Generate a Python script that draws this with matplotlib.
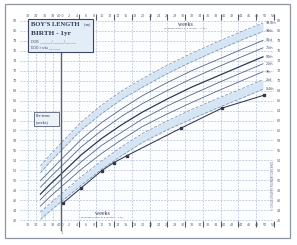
import matplotlib
matplotlib.use("Agg")
import matplotlib.pyplot as plt
from matplotlib.patches import Rectangle

# ---- data ----
weeks = [-5, -2.5, 0, 5, 10, 15, 20, 26, 32, 38, 44, 49.5]
c996 = [52.9, 55.2, 57.4, 61.7, 65.1, 68.0, 70.4, 73.1, 75.5, 77.7, 79.8, 81.6]
c98 = [51.5, 53.8, 55.9, 60.1, 63.4, 66.3, 68.7, 71.4, 73.8, 76.0, 78.1, 79.9]
c91 = [49.9, 52.0, 54.1, 58.2, 61.6, 64.4, 67.0, 69.6, 72.0, 74.1, 76.2, 78.1]
c75 = [48.6, 50.7, 52.7, 56.7, 60.0, 62.9, 65.4, 68.0, 70.4, 72.6, 74.7, 76.6]
c50 = [47.2, 49.3, 51.2, 55.1, 58.4, 61.2, 63.7, 66.3, 68.7, 70.8, 72.9, 74.8]
c25 = [46.1, 48.1, 50.0, 53.7, 57.0, 59.7, 62.3, 64.9, 67.2, 69.4, 71.5, 73.4]
c9 = [44.8, 46.8, 48.6, 52.2, 55.4, 58.2, 60.8, 63.3, 65.6, 67.8, 69.9, 71.8]
c2 = [43.6, 45.4, 47.2, 50.7, 53.9, 56.8, 59.4, 61.9, 64.2, 66.3, 68.3, 70.2]
c04 = [42.1, 43.9, 45.6, 49.0, 52.2, 55.0, 57.6, 60.1, 62.3, 64.4, 66.4, 68.3]
centile_names = ["99.6th", "98th", "91st", "75th", "50th", "25th", "9th", "2nd", "0.4th"]

child_weeks = [0.5, 4.9, 10.0, 12.9, 16.1, 29.5, 39.5, 49.8]
child_len = [45.4, 48.4, 51.9, 53.5, 54.9, 60.5, 64.5, 67.1]

x_ticks = list(range(-8, 53, 2))
x_labels = [str(40 + w) if w < 0 else ("40·0" if w == 0 else str(w)) for w in x_ticks]
y_ticks = list(range(42, 83, 2))
month_marks = [4.35 * k for k in range(1, 13)]

# ---- figure ----
fig = plt.figure(figsize=(2.97, 2.45), dpi=100)
fig.patch.set_facecolor("white")
ax = fig.add_axes([20 / 297, (245 - 221) / 245, 254 / 297, 201 / 245])
ax.set_facecolor("#fbfdff")
ax.set_xlim(-10, 52)
ax.set_ylim(41.8, 82.2)

gridc = "#a9b6ca"
for y in y_ticks:
    ax.axhline(y, color=gridc, lw=0.45, ls=(0, (3, 2)), zorder=1)
for x in [-8, -6, -4, -2] + month_marks:
    ax.axvline(x, color=gridc, lw=0.45, ls=(0, (3, 2)), zorder=1)

for s in ax.spines.values():
    s.set_visible(False)

# bands
bandc = "#d6e5f3"
ax.fill_between(weeks, c98, c996, color=bandc, lw=0, zorder=2)
ax.fill_between(weeks, c04, c2, color=bandc, lw=0, zorder=2)

curves = [c996, c98, c91, c75, c50, c25, c9, c2, c04]
for name, c in zip(centile_names, curves):
    if name in ("99.6th", "98th", "2nd", "0.4th"):
        ax.plot(weeks, c, color="#7d92b8", lw=0.55, ls=(0, (4, 2)), zorder=3)
    elif name == "50th":
        ax.plot(weeks, c, color="#2c3858", lw=0.9, zorder=3)
    else:
        ax.plot(weeks, c, color="#55658a", lw=0.6, zorder=3)
    ax.text(50.2, c[-1], name, fontsize=2.3, color="#444c5c", va="center", ha="left",
            family="DejaVu Sans", zorder=4)

# child measurements
ax.plot(child_weeks, child_len, color="#30384a", lw=0.75, marker="s", ms=1.8, zorder=5)

# term line
ax.axvline(0, ymin=-0.045, ymax=0.84, color="#5a6070", lw=1.0, clip_on=False, zorder=6)

# ticks
ax.set_xticks(x_ticks)
ax.set_xticklabels(x_labels)
ax.set_xticks(month_marks, minor=True)
ax.tick_params(axis="x", which="major", length=0, labelsize=2.4, labelcolor="#555b66",
               top=True, labeltop=True, pad=1.2)
ax.tick_params(axis="x", which="minor", length=4, width=0.8, color="#555b66",
               top=True, direction="out")
ax.set_yticks(y_ticks)
ax.set_yticklabels([str(v) for v in y_ticks])
ax.tick_params(axis="y", length=0, labelsize=2.4, labelcolor="#555b66",
               right=True, labelright=True, pad=2)

# overlay in pixel coordinates for annotations
ov = fig.add_axes([0, 0, 1, 1], zorder=10)
ov.set_xlim(0, 297)
ov.set_ylim(245, 0)
ov.axis("off")
ov.patch.set_alpha(0)

ov.add_patch(Rectangle((5, 4), 285, 234, fill=False, ec="#8f959e", lw=0.9))

# title box
ov.add_patch(Rectangle((28, 19), 65, 33, fc="#e3edf7", ec="#3c4660", lw=0.8))
ov.text(31, 25, "BOY'S LENGTH", fontsize=4.7, family="Liberation Serif",
        weight="bold", color="#2b3550", va="center")
ov.text(91, 25.5, "(cm)", fontsize=2.8, family="Liberation Serif", color="#2b3550",
        va="center", ha="right")
ov.text(31, 33, "BIRTH - 1yr", fontsize=5.2, family="Liberation Serif",
        weight="bold", color="#2b3550", va="center")
ov.text(31, 41, "DOB  ______/______/______", fontsize=2.6, family="Liberation Serif",
        color="#3c4660", va="center")
ov.text(31, 47.5, "EDD ± wks ______", fontsize=2.6, family="Liberation Serif",
        color="#3c4660", va="center")

# pre-term box
ov.add_patch(Rectangle((34, 112), 25, 14, fc="#eef3f9", ec="#55607a", lw=0.6))
ov.text(36, 116, "Pre-term", fontsize=3.0, family="Liberation Serif", color="#2b3550", va="center")
ov.text(36, 122, "(weeks)", fontsize=3.0, family="Liberation Serif", color="#2b3550", va="center")

# weeks captions
ov.text(185, 24, "weeks", fontsize=4.2, family="Liberation Serif", color="#2b3550",
        ha="center", va="center")
ov.text(185, 28.5, "(average weeks in a month = 4.35)", fontsize=1.7, color="#555b66",
        ha="center", va="center")
ov.text(102, 213, "weeks", fontsize=4.2, family="Liberation Serif", color="#2b3550",
        ha="center", va="center")
ov.text(102, 217.5, "(average weeks in a month = 4.35)", fontsize=1.7, color="#555b66",
        ha="center", va="center")
ov.text(62, 233, "1", fontsize=2.4, color="#555b66", ha="center", va="center")

ov.text(273.5, 185, "© CHILD GROWTH FOUNDATION 1996/1", fontsize=1.8, color="#666c77",
        rotation=90, ha="center", va="center")

fig.savefig("out.png", dpi=100, facecolor="white")
